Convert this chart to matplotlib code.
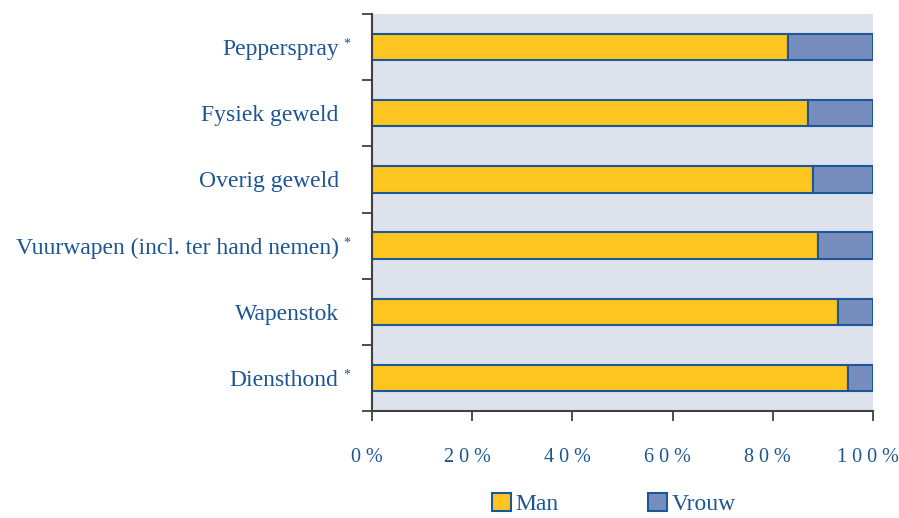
import numpy as np
import matplotlib
matplotlib.use("Agg")
import matplotlib.pyplot as plt
from matplotlib.patches import Patch
from matplotlib.transforms import ScaledTranslation

# data (aandeel man / vrouw per geweldsmiddel, in %)
categories = ["Pepperspray", "Fysiek geweld", "Overig geweld",
              "Vuurwapen (incl. ter hand nemen)", "Wapenstok", "Diensthond"]
starred = [True, False, False, True, False, True]
man = [83, 87, 88, 89, 93, 95]
vrouw = [100 - m for m in man]
xticks = [0, 20, 40, 60, 80, 100]
xtick_labels = ["0 %", "2 0 %", "4 0 %", "6 0 %", "8 0 %", "1 0 0 %"]

text_col = "#1d5594"
edge_col = "#1c5899"
yellow = "#fdc520"
blue = "#778dbd"
bg = "#dde2ed"
spine_col = "#404040"

plt.rcParams["font.family"] = ["Liberation Serif", "DejaVu Serif"]

fig = plt.figure(figsize=(8.99, 5.18), dpi=100)
ax = fig.add_axes([372 / 899, 1 - 411 / 518, 501 / 899, 397 / 518])
ax.set_facecolor(bg)

y = np.arange(len(categories))[::-1]
ax.barh(y, man, height=0.4, color=yellow, edgecolor=edge_col, linewidth=1.5, label="Man")
ax.barh(y, vrouw, left=man, height=0.4, color=blue, edgecolor=edge_col, linewidth=1.5, label="Vrouw")

ax.set_xlim(0, 100)
ax.set_ylim(-0.5, len(categories) - 0.5)

for s in ["top", "right"]:
    ax.spines[s].set_visible(False)
for s in ["left", "bottom"]:
    ax.spines[s].set_color(spine_col)
    ax.spines[s].set_linewidth(1.5)

# y ticks at category boundaries, labels at centres
ax.set_yticks(np.arange(-0.5, len(categories)), minor=False)
ax.set_yticklabels([])
ax.tick_params(axis="y", length=7, width=1.3, color=spine_col)
ax.set_yticks(y, minor=True)
ax.set_yticklabels(categories, minor=True)
ax.tick_params(axis="y", which="minor", length=0, pad=24,
               labelsize=17, labelcolor=text_col)

for yi, st in zip(y, starred):
    if st:
        ax.annotate("*", xy=(0, yi), xycoords=("axes fraction", "data"),
                    xytext=(-18, 2), textcoords="offset points",
                    fontsize=10, color=text_col, ha="center", va="center")

ax.set_xticks(xticks)
ax.set_xticklabels(xtick_labels)
ax.tick_params(axis="x", length=7, width=1.3, color=spine_col, pad=20,
               labelsize=14.5, labelcolor=text_col)
shift = ScaledTranslation(-5 / 100, 0, fig.dpi_scale_trans)
for lbl in ax.get_xticklabels():
    lbl.set_transform(lbl.get_transform() + shift)

handles = [Patch(facecolor=yellow, edgecolor=edge_col, linewidth=1.5, label="Man"),
           Patch(facecolor=blue, edgecolor=edge_col, linewidth=1.5, label="Vrouw")]
fig.legend(handles=handles, loc="lower center", bbox_to_anchor=(0.683, -0.036),
           ncol=2, frameon=False, fontsize=17, labelcolor=text_col,
           handlelength=0.78, handleheight=0.78, handletextpad=0.2, columnspacing=3.8)

fig.savefig("out.png", dpi=100)
